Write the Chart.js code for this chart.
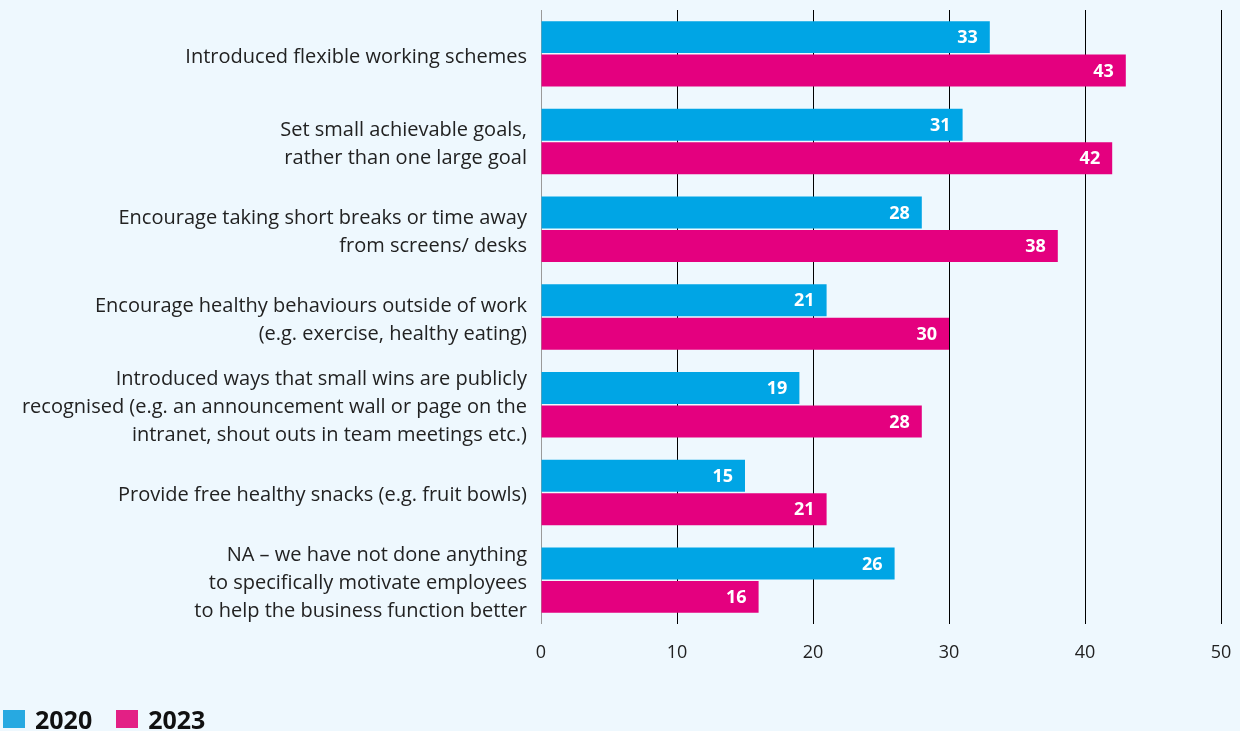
<!DOCTYPE html>
<html>
<head>
<meta charset="utf-8">
<script src="https://cdn.jsdelivr.net/npm/chart.js@4/dist/chart.umd.min.js"></script>
<style>
  html, body { margin: 0; padding: 0; background: #eef8fe; }
  #wrap { position: relative; width: 1240px; height: 731px; }
  #legend { position: absolute; left: 3px; top: 702px; display: flex; align-items: center;
            font-family: "Open Sans", sans-serif; font-weight: 700; font-size: 25px; color: #111; }
  .item { display: flex; align-items: center; margin-right: 24px; }
  .sw { width: 22px; height: 18px; margin-right: 10px; }
</style>
</head>
<body>
<div id="wrap">
  <canvas id="c" width="1240" height="731"></canvas>
  <div id="legend"></div>
</div>
<script>
const categories = [
  "Introduced flexible working schemes",
  ["Set small achievable goals,", "rather than one large goal"],
  ["Encourage taking short breaks or time away", "from screens/ desks"],
  ["Encourage healthy behaviours outside of work", "(e.g. exercise, healthy eating)"],
  ["Introduced ways that small wins are publicly", "recognised (e.g. an announcement wall or page on the", "intranet, shout outs in team meetings etc.)"],
  "Provide free healthy snacks (e.g. fruit bowls)",
  ["NA – we have not done anything", "to specifically motivate employees", "to help the business function better"]
];
const seriesNames = ["2020", "2023"];
const values2020 = [33, 31, 28, 21, 19, 15, 26];
const values2023 = [43, 42, 38, 30, 28, 21, 16];
const xTicks = [0, 10, 20, 30, 40, 50];

const barColors = ["#00a5e5", "#e4007f"];
const legendColors = ["#27a9e1", "#e32085"];
const FONT = '"Open Sans", sans-serif';

// White value labels drawn inside the end of each bar
const valueLabels = {
  id: 'valueLabels',
  afterDatasetsDraw(chart) {
    const ctx = chart.ctx;
    ctx.save();
    ctx.font = '700 18px ' + FONT;
    ctx.fillStyle = '#ffffff';
    ctx.textAlign = 'right';
    ctx.textBaseline = 'middle';
    chart.data.datasets.forEach((ds, i) => {
      chart.getDatasetMeta(i).data.forEach((bar, j) => {
        ctx.fillText(String(ds.data[j]), bar.x - 12, bar.y + 1);
      });
    });
    ctx.restore();
  }
};

new Chart(document.getElementById('c'), {
  type: 'bar',
  data: {
    labels: categories,
    datasets: [
      { label: seriesNames[0], data: values2020, backgroundColor: barColors[0] },
      { label: seriesNames[1], data: values2023, backgroundColor: barColors[1] }
    ]
  },
  options: {
    indexAxis: 'y',
    responsive: false,
    animation: false,
    layout: { padding: { left: 0, right: 19, top: 10, bottom: 67 } },
    datasets: { bar: { categoryPercentage: 0.763, barPercentage: 0.955 } },
    plugins: { legend: { display: false }, tooltip: { enabled: false } },
    scales: {
      x: {
        min: 0, max: 50,
        afterBuildTicks(scale) { scale.ticks = xTicks.map(v => ({ value: v })); },
        afterFit(scale) { scale.height = 40; scale.paddingLeft = 0; scale.paddingRight = 0; },
        border: { display: false },
        grid: {
          drawTicks: false,
          color: c => c.tick && c.tick.value === 0 ? '#9a9a9a' : '#000000',
          lineWidth: 1
        },
        ticks: { padding: 18, color: '#222', font: { family: FONT, size: 18 } }
      },
      y: {
        afterFit(scale) { scale.width = 541; scale.paddingTop = 0; scale.paddingBottom = 0; },
        border: { display: false },
        grid: { display: false, drawTicks: false },
        ticks: { autoSkip: false, padding: 14, labelOffset: 3, color: '#222', font: { family: FONT, size: 20, lineHeight: 1.4 } }
      }
    }
  },
  plugins: [valueLabels]
});

// Legend row
const legend = document.getElementById('legend');
seriesNames.forEach((name, i) => {
  const item = document.createElement('div');
  item.className = 'item';
  const sw = document.createElement('div');
  sw.className = 'sw';
  sw.style.background = legendColors[i];
  const t = document.createElement('span');
  t.textContent = name;
  item.appendChild(sw);
  item.appendChild(t);
  legend.appendChild(item);
});
</script>
</body>
</html>
